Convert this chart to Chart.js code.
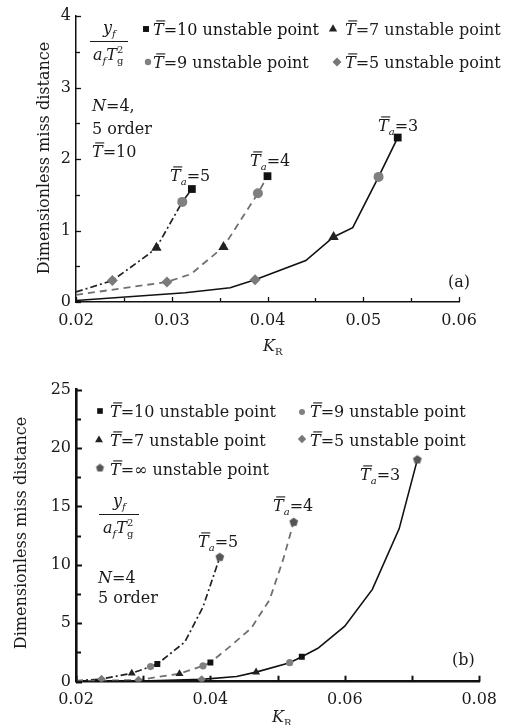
<!DOCTYPE html>
<html>
<head>
<meta charset="utf-8">
<script src="https://cdn.jsdelivr.net/npm/chart.js@4.4.1/dist/chart.umd.min.js"></script>
<style>
  body { margin: 0; background: #fff; }
  canvas { position: absolute; left: 0; }
  #chartA { top: 0; }
  #chartB { top: 360px; }
</style>
</head>
<body>
<canvas id="chartA" width="506" height="360"></canvas>
<canvas id="chartB" width="506" height="365"></canvas>
<script>
const SERIF = '"DejaVu Serif", "Liberation Serif", serif';

// ---- (a) N=4, 5 order, T=10 ----
const krA3 = [0.02, 0.0314, 0.0361, 0.0387, 0.0440, 0.0469, 0.0489, 0.0516, 0.0536];
const missA3 = [0.02, 0.13, 0.20, 0.31, 0.58, 0.91, 1.04, 1.75, 2.30];
const krA4 = [0.02, 0.0295, 0.0320, 0.0354, 0.0390, 0.0400];
const missA4 = [0.10, 0.28, 0.39, 0.77, 1.52, 1.76];
const krA5 = [0.02, 0.0238, 0.0277, 0.0284, 0.0311, 0.0321];
const missA5 = [0.14, 0.30, 0.68, 0.76, 1.40, 1.58];

// unstable points (a): Ta=3, Ta=4, Ta=5
const krA_T10 = [0.0536, 0.0400, 0.0321];
const missA_T10 = [2.30, 1.76, 1.58];
const krA_T9 = [0.0516, 0.0390, 0.0311];
const missA_T9 = [1.75, 1.52, 1.40];
const krA_T7 = [0.0469, 0.0354, 0.0284];
const missA_T7 = [0.91, 0.77, 0.76];
const krA_T5 = [0.0387, 0.0295, 0.0238];
const missA_T5 = [0.31, 0.28, 0.30];

// ---- (b) N=4, 5 order ----
const krB3 = [0.02, 0.0310, 0.0387, 0.0439, 0.0468, 0.0518, 0.0536, 0.0560, 0.0600, 0.0641, 0.0681, 0.0708];
const missB3 = [0.0, 0.08, 0.20, 0.45, 0.82, 1.63, 2.14, 2.86, 4.75, 7.9, 13.1, 19.0];
const krB4 = [0.02, 0.0293, 0.0354, 0.0389, 0.0400, 0.0429, 0.0461, 0.0488, 0.0508, 0.0524];
const missB4 = [0.05, 0.15, 0.68, 1.36, 1.65, 3.0, 4.6, 7.0, 10.4, 13.65];
const krB5 = [0.02, 0.0238, 0.0283, 0.0311, 0.0321, 0.0362, 0.0389, 0.0414];
const missB5 = [0.08, 0.23, 0.72, 1.29, 1.51, 3.4, 6.4, 10.65];

const krB_T10 = [0.0536, 0.0400, 0.0321];
const missB_T10 = [2.14, 1.65, 1.51];
const krB_T9 = [0.0518, 0.0389, 0.0311];
const missB_T9 = [1.63, 1.36, 1.29];
const krB_T7 = [0.0468, 0.0354, 0.0283];
const missB_T7 = [0.82, 0.68, 0.72];
const krB_T5 = [0.0387, 0.0293, 0.0238];
const missB_T5 = [0.20, 0.15, 0.23];
const krB_Tinf = [0.0708, 0.0524, 0.0414];
const missB_Tinf = [19.0, 13.65, 10.65];

const xTicksA = [0.02, 0.06, 0.01];
const yTicksA = [0, 4, 1];
const xTicksB = [0.02, 0.08, 0.02];
const yTicksB = [0, 25, 5];

function pts(xs, ys) {
  return xs.map((x, i) => ({ x: x, y: ys[i] }));
}

function lineSet(xs, ys, color, width, dash) {
  return {
    data: pts(xs, ys), showLine: true, borderColor: color, borderWidth: width,
    borderDash: dash, pointRadius: 0, pointHoverRadius: 0, tension: 0, order: 2
  };
}

function markSet(xs, ys, style, r, color) {
  return {
    data: pts(xs, ys), showLine: false, pointStyle: style, pointRadius: r,
    pointHoverRadius: r, backgroundColor: color, borderColor: color, borderWidth: 0, order: 1
  };
}

function pentagon(r, color) {
  const c = document.createElement("canvas");
  c.width = c.height = Math.ceil(r * 2 + 2);
  const g = c.getContext("2d");
  g.fillStyle = color;
  g.beginPath();
  for (let i = 0; i < 5; i++) {
    const a = -Math.PI / 2 + i * 2 * Math.PI / 5;
    g.lineTo(c.width / 2 + r * Math.cos(a), c.height / 2 + r * Math.sin(a));
  }
  g.closePath();
  g.fill();
  return c;
}

// text with italic / overline / sub / sup parts
function rich(ctx, x, y, size, parts) {
  ctx.textAlign = "left";
  ctx.textBaseline = "alphabetic";
  for (const p of parts) {
    const s = (p.sub || p.sup) ? Math.round(size * 0.6) : size;
    ctx.font = (p.it ? "italic " : "") + s + "px " + SERIF;
    const dy = p.sub ? size * 0.28 : p.sup ? -size * 0.45 : 0;
    ctx.fillText(p.t, x, y + dy);
    const w = ctx.measureText(p.t).width;
    if (p.bar) {
      ctx.beginPath();
      ctx.lineWidth = 1.1;
      ctx.moveTo(x + s * 0.2, y - s * 0.88);
      ctx.lineTo(x + w + s * 0.1, y - s * 0.88);
      ctx.stroke();
    }
    if (!p.stack) x += w;
  }
  return x;
}

const T = { t: "T", it: 1, bar: 1 };
const Ta = (n) => [T, { t: "a", it: 1, sub: 1 }, { t: "=" + n }];

function fraction(ctx, x, y, size, lineX0, lineX1) {
  rich(ctx, x + 10, y, size, [{ t: "y", it: 1 }, { t: "f", it: 1, sub: 1 }]);
  ctx.beginPath();
  ctx.lineWidth = 1.1;
  ctx.moveTo(lineX0, y + 8.5);
  ctx.lineTo(lineX1, y + 8.5);
  ctx.stroke();
  rich(ctx, x, y + 27, size, [
    { t: "a", it: 1 }, { t: "f", it: 1, sub: 1 }, { t: "T", it: 1 },
    { t: "g", sub: 1, stack: 1 }, { t: "2", sup: 1 }
  ]);
}

function marker(ctx, style, r, color, x, y) {
  ctx.fillStyle = color;
  Chart.helpers.drawPoint(ctx, { pointStyle: style, radius: r, rotation: 0, borderWidth: 0 }, x, y);
}

function yTitle(ctx, cx, cy) {
  ctx.save();
  ctx.translate(cx, cy);
  ctx.rotate(-Math.PI / 2);
  ctx.font = "16px " + SERIF;
  ctx.textAlign = "center";
  ctx.textBaseline = "middle";
  ctx.fillStyle = "#1a1a1a";
  ctx.fillText("Dimensionless miss distance", 0, 0);
  ctx.restore();
}

// tick marks drawn inside the axes
const inTicks = {
  id: "inTicks",
  afterDraw(chart, args, o) {
    const { ctx, chartArea: a, scales: { x, y } } = chart;
    ctx.save();
    ctx.strokeStyle = "#111";
    ctx.lineWidth = o.width;
    const n = Math.round((o.xMax - o.xMin) / o.xMinor);
    for (let i = 0; i <= n; i++) {
      const v = o.xMin + i * o.xMinor;
      const major = Math.abs(v / o.xMajor - Math.round(v / o.xMajor)) < 1e-6;
      const px = Math.round(x.getPixelForValue(v)) + 0.5;
      ctx.beginPath();
      ctx.moveTo(px, a.bottom);
      ctx.lineTo(px, a.bottom - (major ? o.len : o.len - 1));
      ctx.stroke();
    }
    const m = Math.round((o.yMax - o.yMin) / o.yMinor);
    for (let i = 0; i <= m; i++) {
      const v = o.yMin + i * o.yMinor;
      const major = Math.abs(v / o.yMajor - Math.round(v / o.yMajor)) < 1e-6;
      const py = Math.round(y.getPixelForValue(v)) + 0.5;
      ctx.beginPath();
      ctx.moveTo(a.left, py);
      ctx.lineTo(a.left + (major ? o.len : o.len - 1), py);
      ctx.stroke();
    }
    ctx.restore();
  }
};

function axes(xt, yt, yW, xH, bw) {
  const tickFont = { family: SERIF, size: 16 };
  return {
    x: {
      type: "linear", min: xt[0], max: xt[1],
      border: { display: true, color: "#111", width: bw },
      grid: { display: false, drawTicks: false },
      ticks: {
        stepSize: xt[2], padding: 9, color: "#1a1a1a", font: tickFont,
        maxRotation: 0, autoSkip: false, callback: (v) => v.toFixed(2)
      },
      afterFit: (s) => { s.height = xH; }
    },
    y: {
      type: "linear", min: yt[0], max: yt[1],
      border: { display: true, color: "#111", width: bw },
      grid: { display: false, drawTicks: false },
      ticks: {
        stepSize: yt[2], padding: 5, color: "#1a1a1a", font: tickFont,
        callback: (v) => String(v)
      },
      afterFit: (s) => { s.width = yW; }
    }
  };
}

// ---------- chart (a) ----------
const notesA = {
  id: "notesA",
  afterDraw(chart) {
    const ctx = chart.ctx;
    ctx.save();
    ctx.fillStyle = "#1a1a1a";
    ctx.strokeStyle = "#1a1a1a";
    // legend
    marker(ctx, "rect", 4.2, "#111", 146, 29);
    rich(ctx, 153, 35, 16, [T, { t: "=10 unstable point" }]);
    marker(ctx, "triangle", 4.8, "#222", 333, 29);
    rich(ctx, 345, 35, 16, [T, { t: "=7 unstable point" }]);
    marker(ctx, "circle", 3.2, "#808080", 148, 62);
    ctx.fillStyle = "#1a1a1a";
    rich(ctx, 153, 68, 16, [T, { t: "=9 unstable point" }]);
    marker(ctx, "rectRot", 4.5, "#777", 337, 62);
    ctx.fillStyle = "#1a1a1a";
    rich(ctx, 345, 68, 16, [T, { t: "=5 unstable point" }]);
    // fraction and conditions
    fraction(ctx, 93, 33, 16, 90, 128);
    rich(ctx, 92, 111, 16, [{ t: "N", it: 1 }, { t: "=4," }]);
    rich(ctx, 92, 134, 16, [{ t: "5 order" }]);
    rich(ctx, 92, 157, 16, [T, { t: "=10" }]);
    // curve labels
    rich(ctx, 378, 131, 16, Ta(3));
    rich(ctx, 250, 166, 16, Ta(4));
    rich(ctx, 170, 181, 16, Ta(5));
    rich(ctx, 448, 287, 16, [{ t: "(a)" }]);
    rich(ctx, 263, 351, 16, [{ t: "K", it: 1 }, { t: "R", sub: 1 }]);
    yTitle(ctx, 45, 158);
    ctx.restore();
  }
};

new Chart(document.getElementById("chartA"), {
  type: "scatter",
  data: {
    datasets: [
      lineSet(krA3, missA3, "#111", 1.6, []),
      lineSet(krA4, missA4, "#707070", 1.8, [7, 5]),
      lineSet(krA5, missA5, "#222", 1.7, [7, 3, 2, 3]),
      markSet(krA_T10, missA_T10, "rect", 5.5, "#111"),
      markSet(krA_T9, missA_T9, "circle", 5, "#808080"),
      markSet(krA_T7, missA_T7, "triangle", 6, "#222"),
      markSet(krA_T5, missA_T5, "rectRot", 5.5, "#7a7a7a")
    ]
  },
  options: {
    responsive: false,
    animation: false,
    events: [],
    layout: { padding: { left: 0, right: 47, top: 16, bottom: 0 } },
    scales: axes(xTicksA, yTicksA, 76, 58, 1.5),
    plugins: {
      legend: { display: false },
      tooltip: { enabled: false },
      inTicks: { xMin: 0.02, xMax: 0.06, xMajor: 0.01, xMinor: 0.005,
                 yMin: 0, yMax: 4, yMajor: 1, yMinor: 0.5, len: 5, width: 1.3 }
    }
  },
  plugins: [inTicks, notesA]
});

// ---------- chart (b) ----------
const OY = 360;
const pentData = pentagon(4.6, "#555");
const pentLegend = pentagon(4.2, "#555");

const notesB = {
  id: "notesB",
  afterDraw(chart) {
    const ctx = chart.ctx;
    ctx.save();
    ctx.translate(0, -OY);
    ctx.fillStyle = "#1a1a1a";
    ctx.strokeStyle = "#1a1a1a";
    marker(ctx, "rect", 4.0, "#111", 100, 411);
    ctx.fillStyle = "#1a1a1a";
    rich(ctx, 110, 417, 16, [T, { t: "=10 unstable point" }]);
    marker(ctx, "circle", 3.0, "#808080", 302, 412);
    ctx.fillStyle = "#1a1a1a";
    rich(ctx, 310, 417, 16, [T, { t: "=9 unstable point" }]);
    marker(ctx, "triangle", 4.6, "#222", 99, 440);
    ctx.fillStyle = "#1a1a1a";
    rich(ctx, 110, 446, 16, [T, { t: "=7 unstable point" }]);
    marker(ctx, "rectRot", 4.2, "#777", 302, 439);
    ctx.fillStyle = "#1a1a1a";
    rich(ctx, 310, 446, 16, [T, { t: "=5 unstable point" }]);
    marker(ctx, pentLegend, 4, "#555", 100, 468);
    ctx.fillStyle = "#1a1a1a";
    rich(ctx, 110, 475, 16, [T, { t: "=\u221e unstable point" }]);
    fraction(ctx, 103, 506, 16, 99, 139);
    rich(ctx, 98, 583, 16, [{ t: "N", it: 1 }, { t: "=4" }]);
    rich(ctx, 98, 603, 16, [{ t: "5 order" }]);
    rich(ctx, 360, 480, 16, Ta(3));
    rich(ctx, 273, 511, 16, Ta(4));
    rich(ctx, 198, 547, 16, Ta(5));
    rich(ctx, 452, 665, 16, [{ t: "(b)" }]);
    rich(ctx, 272, 722, 16, [{ t: "K", it: 1 }, { t: "R", sub: 1 }]);
    yTitle(ctx, 22, 533);
    ctx.restore();
  }
};

new Chart(document.getElementById("chartB"), {
  type: "scatter",
  data: {
    datasets: [
      lineSet(krB3, missB3, "#111", 1.6, []),
      lineSet(krB4, missB4, "#707070", 1.8, [7, 5]),
      lineSet(krB5, missB5, "#222", 1.7, [7, 3, 2, 3]),
      markSet(krB_T10, missB_T10, "rect", 4.2, "#111"),
      markSet(krB_T9, missB_T9, "circle", 3.6, "#808080"),
      markSet(krB_T7, missB_T7, "triangle", 4.6, "#222"),
      markSet(krB_T5, missB_T5, "rectRot", 4.2, "#7a7a7a"),
      markSet(krB_Tinf, missB_Tinf, pentData, 4.6, "#555")
    ]
  },
  options: {
    responsive: false,
    animation: false,
    events: [],
    layout: { padding: { left: 0, right: 26, top: 29.5, bottom: 0 } },
    scales: axes(xTicksB, yTicksB, 76, 43.3, 2.6),
    plugins: {
      legend: { display: false },
      tooltip: { enabled: false },
      inTicks: { xMin: 0.02, xMax: 0.08, xMajor: 0.01, xMinor: 0.01,
                 yMin: 0, yMax: 25, yMajor: 5, yMinor: 2.5, len: 6, width: 2 }
    }
  },
  plugins: [inTicks, notesB]
});
</script>
</body>
</html>
